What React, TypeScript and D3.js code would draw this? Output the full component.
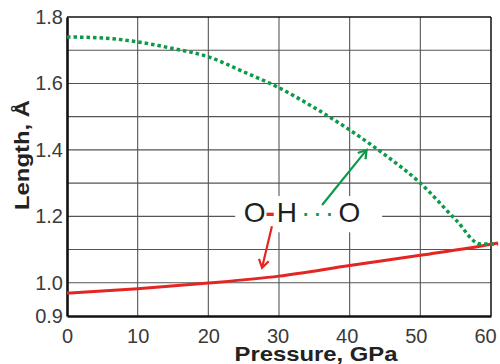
import { useEffect, useRef } from "react";
import * as d3 from "d3";

// O···H hydrogen bond (green, dotted)
const hbondP = [0, 5, 10, 15, 20, 25, 30, 35, 40, 45, 50, 55, 58.5, 61];
const hbondLen = [1.74, 1.737, 1.725, 1.705, 1.68, 1.635, 1.587, 1.527, 1.46, 1.385, 1.3, 1.19, 1.117, 1.117];

// O-H covalent bond (red, solid)
const covP = [0, 10, 20, 30, 40, 50, 60, 61];
const covLen = [0.969, 0.982, 0.999, 1.02, 1.052, 1.083, 1.116, 1.12];

const xTicks = [0, 10, 20, 30, 40, 50, 60];
const yTicks = [0.9, 1.0, 1.2, 1.4, 1.6, 1.8];
const yGrid = [1.0, 1.1, 1.2, 1.3, 1.4, 1.5, 1.6, 1.7];

const FONT = "'Liberation Sans', Arial, sans-serif";
const GREEN = "#0c9a4a";
const RED = "#e42522";

const App = () => {
  const svgRef = useRef<SVGSVGElement | null>(null);

  useEffect(() => {
    const svg = d3.select(svgRef.current);
    svg.selectAll("*").remove();

    const width = 500;
    const height = 364;
    const margin = { top: 17, right: 9, bottom: 48, left: 67 };
    const w = width - margin.left - margin.right;
    const h = height - margin.top - margin.bottom;

    svg.attr("width", width).attr("height", height);

    const defs = svg.append("defs");
    [["arrG", GREEN], ["arrR", RED]].forEach(([id, c]) => {
      defs.append("marker")
        .attr("id", id)
        .attr("viewBox", "0 0 12 12")
        .attr("refX", 10)
        .attr("refY", 6)
        .attr("markerWidth", 12)
        .attr("markerHeight", 12)
        .attr("markerUnits", "userSpaceOnUse")
        .attr("orient", "auto")
        .append("path")
        .attr("d", "M2,1 L10,6 L2,11")
        .attr("fill", "none")
        .attr("stroke", c)
        .attr("stroke-width", 2.2);
    });

    const g = svg.append("g").attr("transform", `translate(${margin.left},${margin.top})`);

    const x = d3.scaleLinear().domain([0, 60]).range([0, w]);
    const y = d3.scaleLinear().domain([0.9, 1.8]).range([h, 0]);

    // grid
    g.selectAll("line.vg")
      .data(xTicks.slice(1, -1))
      .enter()
      .append("line")
      .attr("x1", d => x(d)).attr("x2", d => x(d))
      .attr("y1", 0).attr("y2", h)
      .attr("stroke", "#555").attr("stroke-width", 1.1);
    g.selectAll("line.hg")
      .data(yGrid)
      .enter()
      .append("line")
      .attr("x1", 0).attr("x2", w)
      .attr("y1", d => y(d)).attr("y2", d => y(d))
      .attr("stroke", "#555").attr("stroke-width", 1.1);

    // frame
    g.append("line").attr("x1", 0).attr("x2", w).attr("y1", 0).attr("y2", 0)
      .attr("stroke", "#111").attr("stroke-width", 1.5);
    g.append("line").attr("x1", w).attr("x2", w).attr("y1", 0).attr("y2", h)
      .attr("stroke", "#111").attr("stroke-width", 1.5);

    // axes
    const xAxis = g.append("g")
      .attr("transform", `translate(0,${h})`)
      .call(d3.axisBottom(x).tickValues(xTicks).tickSize(0).tickPadding(13).tickFormat(d3.format("d")));
    const yAxis = g.append("g")
      .call(d3.axisLeft(y).tickValues(yTicks).tickSize(0).tickPadding(4).tickFormat(d3.format(".1f")));
    [xAxis, yAxis].forEach(a => {
      a.select(".domain").attr("stroke", "#111").attr("stroke-width", 2.6);
      a.selectAll("text")
        .attr("font-family", FONT)
        .attr("font-size", 20)
        .attr("fill", "#3a3a3a");
    });
    // tick labels drift slightly left toward the right end in the original
    xAxis.selectAll<SVGTextElement, number>("text")
      .attr("dx", d => -Math.max(0, d - 20) * 0.15);

    // curves
    const line = d3.line<[number, number]>()
      .x(d => x(d[0]))
      .y(d => y(d[1]))
      .curve(d3.curveMonotoneX);

    g.append("path")
      .datum(covP.map((p, i) => [p, covLen[i]] as [number, number]))
      .attr("d", line)
      .attr("fill", "none")
      .attr("stroke", RED)
      .attr("stroke-width", 3);

    g.append("path")
      .datum(hbondP.map((p, i) => [p, hbondLen[i]] as [number, number]))
      .attr("d", line)
      .attr("fill", "none")
      .attr("stroke", GREEN)
      .attr("stroke-width", 3.5)
      .attr("stroke-dasharray", "3.5,3");

    // label box
    g.append("rect")
      .attr("x", x(23.8)).attr("y", y(1.261))
      .attr("width", x(44.6) - x(23.8)).attr("height", y(1.152) - y(1.261))
      .attr("fill", "#fff");

    const lab = g.append("text")
      .attr("x", x(25))
      .attr("y", y(1.183))
      .attr("font-family", FONT)
      .attr("font-size", 28)
      .attr("fill", "#1e1e1e");
    lab.append("tspan").text("O");
    lab.append("tspan").attr("fill", RED).attr("font-weight", "bold").text("-");
    lab.append("tspan").attr("dx", 2).text("H");
    lab.append("tspan").attr("fill", GREEN).attr("dx", 4).attr("letter-spacing", 2.5).text("···");
    lab.append("tspan").attr("dx", 2).text("O");

    // arrows
    g.append("line")
      .attr("x1", x(36.1)).attr("y1", y(1.234))
      .attr("x2", x(42.4)).attr("y2", y(1.4))
      .attr("stroke", GREEN).attr("stroke-width", 2.2)
      .attr("marker-end", "url(#arrG)");
    g.append("line")
      .attr("x1", x(29.0)).attr("y1", y(1.17))
      .attr("x2", x(27.6)).attr("y2", y(1.045))
      .attr("stroke", RED).attr("stroke-width", 2.2)
      .attr("marker-end", "url(#arrR)");

    // axis titles
    svg.append("text")
      .attr("x", 316)
      .attr("y", 361)
      .attr("text-anchor", "middle")
      .attr("font-family", FONT)
      .attr("font-weight", "bold")
      .attr("font-size", 21)
      .attr("textLength", 163)
      .attr("lengthAdjust", "spacingAndGlyphs")
      .attr("fill", "#222")
      .text("Pressure, GPa");

    svg.append("text")
      .attr("transform", "translate(29,155) rotate(-90)")
      .attr("text-anchor", "middle")
      .attr("font-family", FONT)
      .attr("font-weight", "bold")
      .attr("font-size", 21)
      .attr("textLength", 110)
      .attr("lengthAdjust", "spacingAndGlyphs")
      .attr("fill", "#222")
      .text("Length, Å");
  }, []);

  return (
    <svg ref={svgRef} style={{ position: "absolute", left: 0, top: 0 }}></svg>
  );
};

export default App;
